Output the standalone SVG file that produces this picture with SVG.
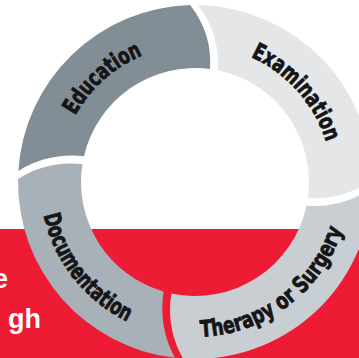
<svg xmlns="http://www.w3.org/2000/svg" width="359" height="358" viewBox="0 0 359 358">
<style>
.seg-label{font-family:"Liberation Sans Narrow","DejaVu Sans Condensed","Liberation Sans",sans-serif;font-weight:bold;font-size:23px;fill:#151515;stroke:#151515;stroke-width:0.8px;font-stretch:condensed}
.side{font-family:"Liberation Sans",Arial,sans-serif;font-weight:bold;font-size:27px;fill:#fff}
.arc{fill:none}
</style>
<rect x="0" y="0" width="359" height="358" fill="#fff"/>
<rect x="0" y="229" width="359" height="129" fill="#ed1b34"/>
<text class="side" x="8" y="288" text-anchor="end">e</text>
<text class="side" x="41" y="328" text-anchor="end">gh</text>
<g id="connectors"></g>
<g id="education">
<path d="M18.35,170.89 A177,177 0 0 1 190.06,5.07 Q212.24,33.0 210.08,69.0 A114,114 0 0 0 83.97,156.16 Q47.91,152.61 18.35,170.89 Z" fill="#818e96"/>
<path id="arcEdu" class="arc" d="M60.87,209.90 A137,137 0 0 1 237.90,51.89"/>
<text class="seg-label"><textPath href="#arcEdu" startOffset="50%" text-anchor="middle" textLength="92" lengthAdjust="spacingAndGlyphs">Education</textPath></text>
</g>
<g id="examination">
<path d="M198.09,5.03 A177,177 0 0 1 371.98,179.53 Q343.85,200.54 307.89,197.87 A114,114 0 0 0 217.92,70.33 Q220.02,34.1 198.09,5.03 Z" fill="#e4e6e8"/>
<path id="arcExa" class="arc" d="M167.69,47.75 A137,137 0 0 1 324.92,225.47"/>
<text class="seg-label"><textPath href="#arcExa" startOffset="50%" text-anchor="middle" textLength="117" lengthAdjust="spacingAndGlyphs">Examination</textPath></text>
</g>
<g id="therapy">
<path d="M371.91,187.56 A177,177 0 0 1 182.96,358.59 Q165.87,329.14 171.30,293.51 A114,114 0 0 0 306.51,205.70 Q342.68,208.31 371.91,187.56 Z" fill="#c9ced2"/>
<path id="arcThe" class="arc" d="M134.69,324.78 A155,155 0 0 0 348.81,162.84"/>
<text class="seg-label"><textPath href="#arcThe" startOffset="50%" text-anchor="middle" textLength="189" lengthAdjust="spacingAndGlyphs">Therapy or Surgery</textPath></text>
</g>
<g id="documentation">
<path d="M174.96,357.86 A177,177 0 0 1 18.03,178.91 Q46.57,160.35 82.44,163.97 A114,114 0 0 0 163.58,291.58 Q158.20,327.42 174.96,357.86 Z" fill="#a9b1b8"/>
<path id="arcDoc" class="arc" d="M51.03,124.54 A155,155 0 0 0 217.24,335.40"/>
<text class="seg-label"><textPath href="#arcDoc" startOffset="50%" text-anchor="middle" textLength="140" lengthAdjust="spacingAndGlyphs">Documentation</textPath></text>
</g>
</svg>
